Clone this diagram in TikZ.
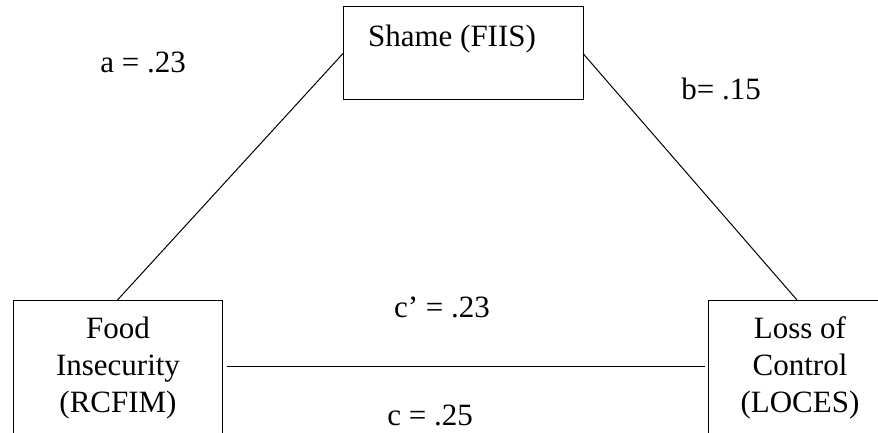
\documentclass[tikz,border=0pt]{standalone}
\usepackage{fontspec}
\setmainfont{Liberation Serif}
\begin{document}
\begin{tikzpicture}[x=1pt,y=-1pt,
  box/.style={draw=black, line width=1pt, inner sep=0pt, outer sep=0pt},
  conn/.style={draw=black, line width=1pt},
  lab/.style={font=\fontsize{31}{37}\selectfont, inner sep=0pt, anchor=base, align=center}]
\useasboundingbox (0,0) rectangle (878,433);
\clip (0,0) rectangle (878,433);
% boxes
\node[box, minimum width=240pt, minimum height=93pt] (sh) at (463,53.5) {};
\node[box, minimum width=209pt, minimum height=133pt] (fi) at (117.5,366.5) {};
\node[box, minimum width=178pt, minimum height=136pt] (lc) at (797,368) {};
% box texts (anchor=base is the last line's baseline)
\node[lab] (shT) at (452,47) {Shame (FIIS)};
\node[lab] (fiT) at (118,412) {Food\\Insecurity\\(RCFIM)};
\node[lab] (lcT) at (800,412) {Loss of\\Control\\(LOCES)};
% connectors
\draw[conn] (fi.north) -- (sh.west);
\draw[conn] (sh.east) -- (lc.north);
\draw[conn, shorten <=5pt, shorten >=3pt] (fi.east) -- (lc.west |- fi.east);
% path labels
\node[lab] (a) at (143,73) {a = .23};
\node[lab] (b) at (721,100) {b= .15};
\node[lab] (cp) at (442,317) {c’ = .23};
\node[lab] (c) at (430,425) {c = .25};
\end{tikzpicture}
\end{document}
